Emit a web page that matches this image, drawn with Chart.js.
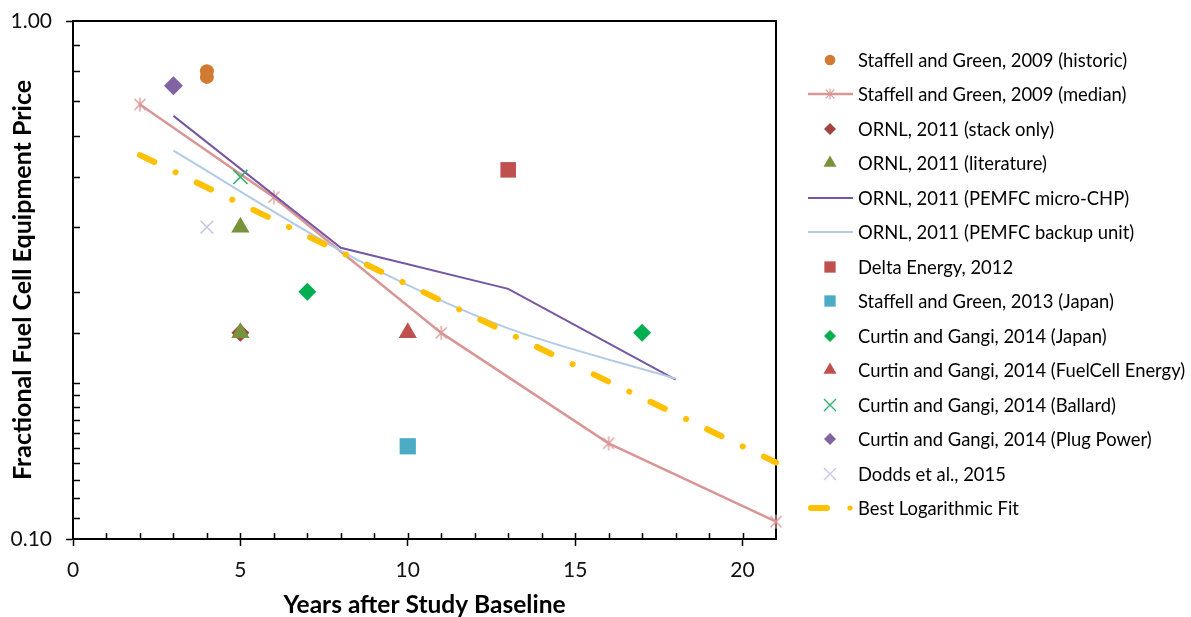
<!DOCTYPE html>
<html><head><meta charset="utf-8">
<script src="https://cdn.jsdelivr.net/npm/chart.js@4.4.1/dist/chart.umd.min.js"></script>
<style>
html,body{margin:0;padding:0;background:#fff;overflow:hidden;}
#wrap{position:relative;width:1191px;height:617px;}
#legend{position:absolute;left:0;top:0;width:1191px;height:617px;font-family:Lato, sans-serif;font-size:18.4px;color:#000;pointer-events:none;}
.item{position:absolute;left:806px;height:34px;display:flex;align-items:center;white-space:nowrap;}
.item canvas{width:48px;height:22px;margin-right:4px;display:block;}
</style></head>
<body>
<div id="wrap"><canvas id="c"></canvas><div id="legend"></div></div>
<script>
// ---------------- DATA ----------------
const seriesNames = [
  'Staffell and Green, 2009 (historic)',
  'Staffell and Green, 2009 (median)',
  'ORNL, 2011 (stack only)',
  'ORNL, 2011 (literature)',
  'ORNL, 2011 (PEMFC micro-CHP)',
  'ORNL, 2011 (PEMFC backup unit)',
  'Delta Energy, 2012',
  'Staffell and Green, 2013 (Japan)',
  'Curtin and Gangi, 2014 (Japan)',
  'Curtin and Gangi, 2014 (FuelCell Energy)',
  'Curtin and Gangi, 2014 (Ballard)',
  'Curtin and Gangi, 2014 (Plug Power)',
  'Dodds et al., 2015',
  'Best Logarithmic Fit'
];
const historicX = [4, 4];
const historicY = [0.80, 0.78];
const medianX = [2, 6, 11, 16, 21];
const medianY = [0.69, 0.457, 0.25, 0.153, 0.108];
const stackX = [5];
const stackY = [0.25];
const literatureX = [5, 5];
const literatureY = [0.40, 0.25];
const microChpX = [3, 8, 13, 18];
const microChpY = [0.656, 0.365, 0.304, 0.203];
const backupX = [3, 8, 10, 13, 18];
const backupY = [0.562, 0.36, 0.309, 0.255, 0.204];
const deltaX = [13];
const deltaY = [0.516];
const japan2013X = [10];
const japan2013Y = [0.151];
const curtinJapanX = [7, 17];
const curtinJapanY = [0.30, 0.25];
const fuelCellX = [10];
const fuelCellY = [0.25];
const ballardX = [5];
const ballardY = [0.50];
const plugX = [3];
const plugY = [0.75];
const doddsX = [4];
const doddsY = [0.40];
const fitX = [2, 21];
const fitY = [0.551, 0.1405];

const xTickValues = [0, 5, 10, 15, 20];
const xTickLabels = ['0', '5', '10', '15', '20'];
const yTickValues = [0.1, 1];
const yTickLabels = ['0.10', '1.00'];
const xTitle = 'Years after Study Baseline';
const yTitle = 'Fractional Fuel Cell Equipment Price';

// ---------------- HELPERS ----------------
function zip(xs, ys) { return xs.map((x, i) => ({ x: x, y: ys[i] })); }

const PINK = '#D99694';
function makeAsterisk(size, r, color, lw) {
  const c = document.createElement('canvas');
  c.width = size; c.height = size;
  const g = c.getContext('2d');
  const m = size / 2;
  g.strokeStyle = color; g.lineWidth = lw;
  g.beginPath();
  const d = r * 0.78;
  g.moveTo(m - d, m - d); g.lineTo(m + d, m + d);
  g.moveTo(m + d, m - d); g.lineTo(m - d, m + d);
  g.moveTo(m, m - r); g.lineTo(m, m + r);
  g.stroke();
  return c;
}
const asteriskPlot = makeAsterisk(20, 7, PINK, 1.3);

// style per series (index aligned with seriesNames)
const styles = [
  { kind: 'marker', shape: 'circle', color: '#D07A32', r: 7, lr: 5.3 },
  { kind: 'line', color: PINK, width: 2.5, marker: 'asterisk' },
  { kind: 'marker', shape: 'rectRot', color: '#A5423F', r: 9, lr: 6 },
  { kind: 'marker', shape: 'triangle', color: '#77933C', r: 10.5, lr: 7.5 },
  { kind: 'line', color: '#7556A3', width: 2 },
  { kind: 'line', color: '#B3CAE6', width: 2 },
  { kind: 'marker', shape: 'rect', color: '#C0504D', r: 11, lr: 8 },
  { kind: 'marker', shape: 'rect', color: '#4BACC6', r: 11.5, lr: 8 },
  { kind: 'marker', shape: 'rectRot', color: '#00B050', r: 9, lr: 6 },
  { kind: 'marker', shape: 'triangle', color: '#C0504D', r: 10.5, lr: 7.5 },
  { kind: 'marker', shape: 'crossRot', color: '#2DB36A', r: 10, lr: 8.5 },
  { kind: 'marker', shape: 'rectRot', color: '#8064A2', r: 9.5, lr: 6 },
  { kind: 'marker', shape: 'crossRot', color: '#C3C9E6', r: 9, lr: 8.5 },
  { kind: 'fit', color: '#FFC000', width: 6 }
];

const seriesPoints = [
  zip(historicX, historicY),
  zip(medianX, medianY),
  zip(stackX, stackY),
  zip(literatureX, literatureY),
  zip(microChpX, microChpY),
  zip(backupX, backupY),
  zip(deltaX, deltaY),
  zip(japan2013X, japan2013Y),
  zip(curtinJapanX, curtinJapanY),
  zip(fuelCellX, fuelCellY),
  zip(ballardX, ballardY),
  zip(plugX, plugY),
  zip(doddsX, doddsY),
  zip(fitX, fitY)
];

const datasets = seriesNames.map((name, i) => {
  const s = styles[i];
  const ds = { label: name, data: seriesPoints[i], order: -i, clip: false };
  if (s.kind === 'marker') {
    const cross = s.shape === 'crossRot';
    Object.assign(ds, {
      showLine: false, pointStyle: s.shape, pointRadius: s.r, pointHoverRadius: s.r,
      pointBackgroundColor: cross ? 'rgba(0,0,0,0)' : s.color,
      pointBorderColor: s.color, pointBorderWidth: cross ? 1.6 : 0,
      backgroundColor: s.color, borderColor: s.color
    });
  } else if (s.kind === 'line') {
    Object.assign(ds, {
      showLine: true, borderColor: s.color, borderWidth: s.width, backgroundColor: s.color,
      pointRadius: s.marker ? 7 : 0, pointHoverRadius: s.marker ? 7 : 0,
      pointStyle: s.marker ? asteriskPlot : 'circle',
      tension: 0
    });
    if (i === 5) { ds.cubicInterpolationMode = 'monotone'; }
  } else {
    Object.assign(ds, {
      showLine: true, borderColor: s.color, borderWidth: s.width,
      borderDash: [16, 23.5, 0.1, 23.4], borderCapStyle: 'round',
      pointRadius: 0, pointHoverRadius: 0
    });
  }
  return ds;
});

function isNear(v, arr) { return arr.findIndex(a => Math.abs(a - v) < 1e-6 * Math.max(1, a)); }

const framePlugin = {
  id: 'frame',
  beforeDatasetsDraw(chart) {
    const { ctx, chartArea: a, scales } = chart;
    const x = scales.x, y = scales.y;
    ctx.save();
    ctx.strokeStyle = '#000';
    ctx.lineWidth = 2;
    ctx.beginPath();
    ctx.moveTo(a.left, a.top); ctx.lineTo(a.right, a.top); ctx.lineTo(a.right, a.bottom);
    ctx.stroke();
    ctx.lineWidth = 1.5;
    ctx.beginPath();
    for (let v = Math.ceil(x.min) + 1; v < x.max; v++) {
      const px = Math.round(x.getPixelForValue(v)) + 0.5;
      ctx.moveTo(px, a.bottom); ctx.lineTo(px, a.bottom - 6);
    }
    y.ticks.forEach(t => {
      if (t.value > y.min * 1.0001 && t.value < y.max * 0.9999) {
        const py = Math.round(y.getPixelForValue(t.value)) + 0.5;
        ctx.moveTo(a.left, py); ctx.lineTo(a.left + 7, py);
      }
    });
    ctx.stroke();
    ctx.restore();
  }
};

Chart.defaults.font.family = 'Lato, sans-serif';
Chart.defaults.color = '#111';

const chart = new Chart(document.getElementById('c'), {
  type: 'scatter',
  data: { datasets: datasets },
  options: {
    responsive: true,
    maintainAspectRatio: false,
    animation: false,
    events: [],
    layout: { padding: { left: 0, top: 21, right: 415, bottom: 0 } },
    plugins: { legend: { display: false }, tooltip: { enabled: false } },
    scales: {
      x: {
        type: 'linear', min: 0, max: 21,
        afterFit: (s) => { s.height = 78; },
        ticks: {
          stepSize: 5, includeBounds: false, autoSkip: false, maxRotation: 0,
          padding: 12, color: '#111', font: { size: 21 },
          callback: (v) => { const k = isNear(v, xTickValues); return k >= 0 ? xTickLabels[k] : ''; }
        },
        grid: { display: true, drawOnChartArea: false, drawTicks: true, tickLength: 7, tickWidth: 1.5, tickColor: '#000' },
        border: { display: true, color: '#000', width: 2 },
        title: { display: true, text: xTitle, color: '#000', font: { size: 24.5, weight: 'bold', lineHeight: 1 }, padding: { top: 0, bottom: 0 } }
      },
      y: {
        type: 'logarithmic', min: 0.1, max: 1,
        afterFit: (s) => { s.width = 73; s.paddingTop = 0; s.paddingBottom = 0; },
        ticks: {
          autoSkip: false, padding: 14, color: '#111', font: { size: 21, lineHeight: 0.8 },
          callback: (v) => { const k = isNear(v, yTickValues); return k >= 0 ? yTickLabels[k] : ''; }
        },
        grid: {
          display: true, drawOnChartArea: false, drawTicks: true, tickLength: 7, tickWidth: 1.5,
          tickColor: (c) => (c.tick && isNear(c.tick.value, yTickValues) >= 0) ? '#000' : 'rgba(0,0,0,0)'
        },
        border: { display: true, color: '#000', width: 2 },
        title: { display: true, text: yTitle, color: '#000', font: { size: 25, weight: 'bold', lineHeight: 1 }, padding: { top: 10.5, bottom: 0 } }
      }
    }
  },
  plugins: [framePlugin]
});

// ---------------- LEGEND (HTML, icons drawn from styles) ----------------
function drawShape(g, shape, cx, cy, r, color) {
  g.fillStyle = color; g.strokeStyle = color;
  g.beginPath();
  if (shape === 'circle') { g.arc(cx, cy, r, 0, Math.PI * 2); g.fill(); }
  else if (shape === 'rectRot') { g.moveTo(cx, cy - r); g.lineTo(cx + r, cy); g.lineTo(cx, cy + r); g.lineTo(cx - r, cy); g.closePath(); g.fill(); }
  else if (shape === 'rect') { const h = r * Math.SQRT1_2; g.rect(cx - h, cy - h, 2 * h, 2 * h); g.fill(); }
  else if (shape === 'triangle') {
    for (let k = 0; k < 3; k++) { const a = k * 2 * Math.PI / 3; const px = cx + Math.sin(a) * r, py = cy - Math.cos(a) * r; if (k === 0) g.moveTo(px, py); else g.lineTo(px, py); }
    g.closePath(); g.fill();
  }
  else if (shape === 'crossRot') { const d = r * Math.SQRT1_2; g.lineWidth = 1.3; g.moveTo(cx - d, cy - d); g.lineTo(cx + d, cy + d); g.moveTo(cx + d, cy - d); g.lineTo(cx - d, cy + d); g.stroke(); }
}

const legendEl = document.getElementById('legend');
const legendTop = 60, legendStep = 34.46;
seriesNames.forEach((name, i) => {
  const s = styles[i];
  const row = document.createElement('div');
  row.className = 'item';
  row.style.top = (legendTop + i * legendStep - 17) + 'px';
  const cv = document.createElement('canvas');
  cv.width = 48; cv.height = 22;
  const g = cv.getContext('2d');
  const cy = 11;
  if (s.kind === 'marker') {
    drawShape(g, s.shape, 24, cy, s.lr, s.color);
  } else if (s.kind === 'line') {
    g.strokeStyle = s.color; g.lineWidth = s.width;
    g.beginPath(); g.moveTo(2, cy); g.lineTo(47, cy); g.stroke();
    if (s.marker) g.drawImage(makeAsterisk(16, 5.5, s.color, 1.1), 24 - 8, cy - 8);
  } else {
    g.strokeStyle = s.color; g.lineWidth = s.width; g.lineCap = 'round';
    g.beginPath(); g.moveTo(5, cy); g.lineTo(21, cy); g.stroke();
    g.fillStyle = s.color; g.beginPath(); g.arc(44, cy, 2.6, 0, Math.PI * 2); g.fill();
  }
  const span = document.createElement('span');
  span.textContent = name;
  row.appendChild(cv); row.appendChild(span);
  legendEl.appendChild(row);
});
</script>
</body></html>
